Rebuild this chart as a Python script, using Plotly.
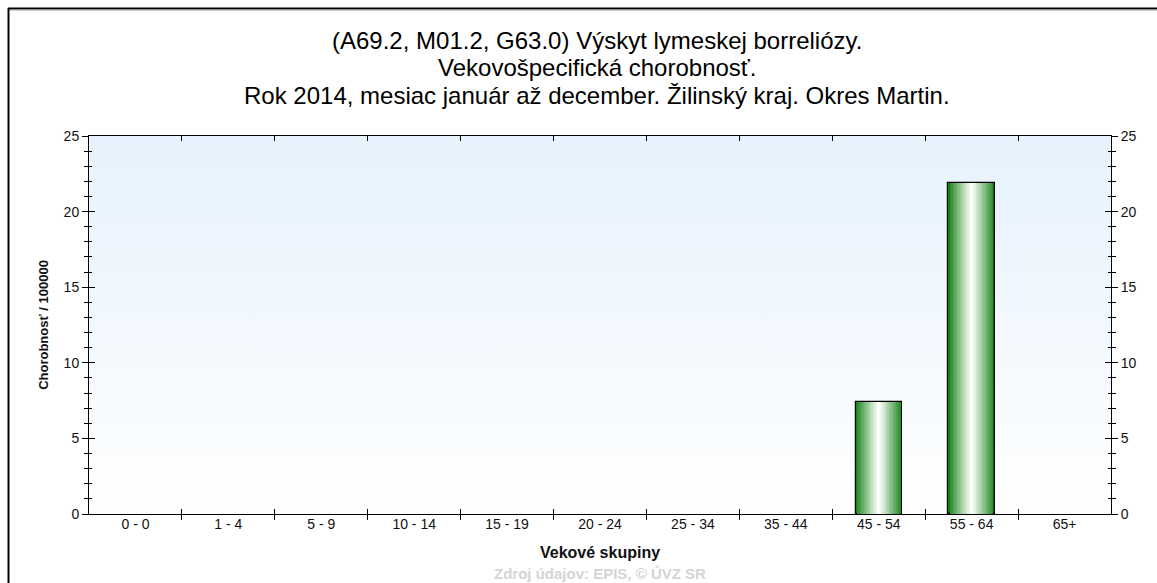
import plotly.graph_objects as go

# Age groups and age-specific morbidity per 100 000
age_groups = ["0 - 0", "1 - 4", "5 - 9", "10 - 14", "15 - 19", "20 - 24",
              "25 - 34", "35 - 44", "45 - 54", "55 - 64", "65+"]
morbidity = [0, 0, 0, 0, 0, 0, 0, 0, 7.4, 21.9, 0]
y_ticks = [0, 5, 10, 15, 20, 25]

W, H = 1157, 583
L, R, T, B = 89, 1111, 136, 514
xs = list(range(len(age_groups)))
x_range = [-0.5, len(age_groups) - 0.5]
y_range = [0, 25]
FONT = "Liberation Sans, Arial, sans-serif"

fig = go.Figure()

# vertical light-blue gradient behind the plot area (base subplot)
fig.add_trace(go.Scatter(
    x=[x_range[0], x_range[1], x_range[1], x_range[0], x_range[0]],
    y=[y_range[0], y_range[0], y_range[1], y_range[1], y_range[0]],
    mode="lines", line=dict(width=0), fill="toself",
    fillgradient=dict(type="vertical", start=y_range[0], stop=y_range[1],
                      colorscale=[[0, "#ffffff"], [1, "#e6f2fd"]]),
    hoverinfo="skip", showlegend=False))

# cylinder-like bars: stacked layers of narrowing width, fading to white
def mix(c1, c2, t):
    return "rgb({},{},{})".format(*[round(a + (b - a) * t) for a, b in zip(c1, c2)])

dark = (24, 128, 24)
light = (250, 255, 250)
n_layers = 16
bar_w = 0.5
outline = [1.2 if v > 0 else 0 for v in morbidity]
for k in range(n_layers):
    t = k / (n_layers - 1)
    fig.add_trace(go.Bar(
        x=xs, y=morbidity, width=bar_w * (1 - k / n_layers),
        xaxis="x2", yaxis="y",
        marker=dict(color=mix(dark, light, t ** 0.9),
                    line=dict(color="black", width=outline if k == 0 else 0)),
        hoverinfo="skip" if k else None, showlegend=False))

# invisible helpers so the extra tick axes get drawn
for xa, ya in [("x3", "y3"), ("x", "y2")]:
    fig.add_trace(go.Scatter(x=[0], y=[0], xaxis=xa, yaxis=ya, mode="markers",
                             marker=dict(opacity=0), hoverinfo="skip",
                             showlegend=False))

boundaries = [i + 0.5 for i in range(len(age_groups) - 1)]
tick_font = dict(family=FONT, size=14, color="#111")
hidden = dict(showgrid=False, zeroline=False)

fig.update_layout(
    width=W, height=H,
    margin=dict(l=L, r=W - R, t=T, b=H - B),
    paper_bgcolor="white", plot_bgcolor="rgba(0,0,0,0)",
    barmode="overlay", bargap=0,
    font=dict(family=FONT, color="black"),
    xaxis=dict(range=x_range, tickmode="array", tickvals=xs, ticktext=age_groups,
               ticks="", showline=False, tickfont=tick_font, **hidden),
    xaxis2=dict(overlaying="x", anchor="y", side="bottom", range=x_range,
                tickmode="array", tickvals=boundaries, ticks="outside", ticklen=5,
                tickcolor="black", showticklabels=False, showline=True,
                linecolor="black", linewidth=1, mirror=True, **hidden),
    xaxis3=dict(overlaying="x", anchor="y3", side="bottom", range=x_range,
                tickmode="array", tickvals=boundaries, ticks="inside", ticklen=5,
                tickcolor="black", showticklabels=False, showline=False,
                mirror="ticks", **hidden),
    yaxis=dict(range=y_range, tickmode="array", tickvals=y_ticks, ticks="outside",
               ticklen=6, tickcolor="black", showline=True, linecolor="black",
               tickfont=tick_font,
               minor=dict(dtick=1, ticks="outside", ticklen=4, tickcolor="black"),
               title=dict(text="<b>Chorobnosť / 100000</b>", standoff=12,
                          font=dict(size=13, color="#111")), **hidden),
    yaxis2=dict(overlaying="y", anchor="x", side="right", range=y_range,
                tickmode="array", tickvals=y_ticks, ticks="outside", ticklen=6,
                tickcolor="black", showline=True, linecolor="black",
                tickfont=tick_font,
                minor=dict(dtick=1, ticks="outside", ticklen=4, tickcolor="black"),
                **hidden),
    yaxis3=dict(overlaying="y", anchor="x3", range=y_range, tickmode="array",
                tickvals=y_ticks, ticks="inside", ticklen=6, tickcolor="black",
                mirror="ticks", showticklabels=False, showline=False,
                minor=dict(dtick=1, ticks="inside", ticklen=3, tickcolor="black"),
                **hidden),
)

def px_x(p):
    return (p - L) / (R - L)

def px_y(p):
    return (B - p) / (B - T)

title_lines = [
    "(A69.2, M01.2, G63.0) Výskyt lymeskej borreliózy.",
    "Vekovošpecifická chorobnosť.",
    "Rok 2014, mesiac január až december. Žilinský kraj. Okres Martin.",
]
for i, line in enumerate(title_lines):
    fig.add_annotation(text=line, xref="paper", yref="paper",
                       x=px_x(597), y=px_y(41 + 27 * i), xanchor="center",
                       yanchor="middle", showarrow=False,
                       font=dict(size=24, color="black"))

fig.add_annotation(text="<b>Vekové skupiny</b>", xref="paper", yref="paper",
                   x=0.5, y=px_y(552), xanchor="center", yanchor="middle",
                   showarrow=False, font=dict(size=16, color="#111"))
fig.add_annotation(text="<b>Zdroj údajov: EPIS, © ÚVZ SR</b>", xref="paper", yref="paper",
                   x=0.5, y=px_y(573), xanchor="center", yanchor="middle",
                   showarrow=False, font=dict(size=15, color="#d4d4d4"))

# outer frame (top and left edges)
fig.add_shape(type="line", xref="paper", yref="paper",
              x0=px_x(8), x1=px_x(W + 5), y0=px_y(8.5), y1=px_y(8.5),
              line=dict(color="black", width=2))
fig.add_shape(type="line", xref="paper", yref="paper",
              x0=px_x(8.5), x1=px_x(8.5), y0=px_y(8), y1=px_y(H + 5),
              line=dict(color="black", width=2))
fig.add_shape(type="line", xref="paper", yref="paper",
              x0=px_x(10), x1=px_x(W + 5), y0=px_y(10), y1=px_y(10),
              line=dict(color="#999", width=1))

fig.write_html("out.html")
